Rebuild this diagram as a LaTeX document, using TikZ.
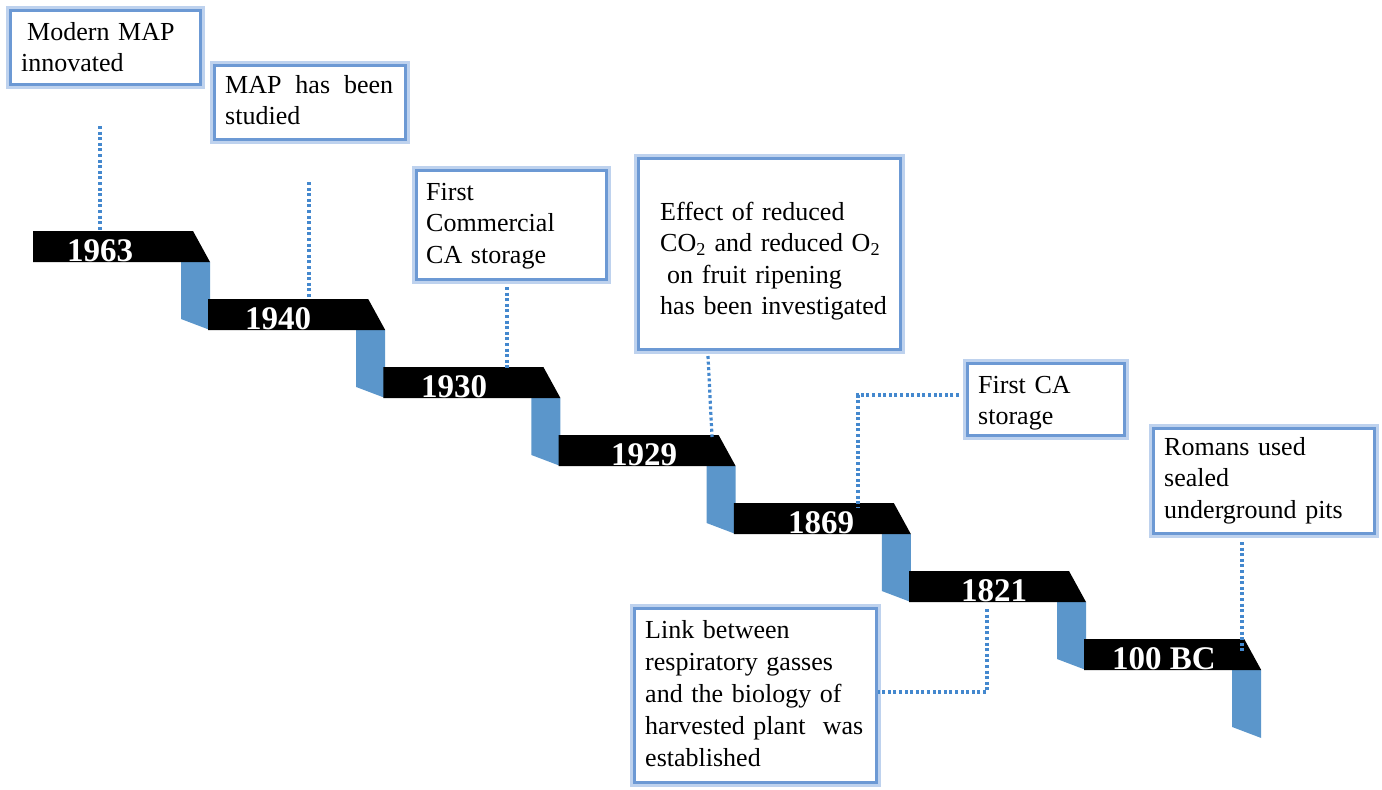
\documentclass[tikz,border=0pt]{standalone}
\usepackage{fontspec}
\setmainfont{Liberation Serif}
\definecolor{ribbon}{RGB}{91,150,203}
\definecolor{dotc}{RGB}{68,136,206}
\definecolor{frameglow}{RGB}{190,210,238}
\definecolor{framemain}{RGB}{108,153,212}
\tikzset{
  boxframe/.style={draw=framemain, line width=3.4pt, fill=white, inner sep=0pt,
    anchor=north west, rectangle,
    preaction={draw=frameglow, line width=9pt}},
  boxtext/.style={font=\fontsize{26}{31.5}\selectfont, align=left, inner sep=0pt,
    anchor=base west, text=black},
  yearlabel/.style={font=\fontsize{33}{36}\selectfont\bfseries, text=white,
    inner sep=0pt, anchor=base},
  dotline/.style={draw=dotc, line width=3.2pt, dash pattern=on 3pt off 2.6pt},
  barshape/.style={fill=black},
  ribbonshape/.style={fill=ribbon}
}
\begin{document}
\begin{tikzpicture}[x=1pt,y=-1pt]
\useasboundingbox (0,0) rectangle (1382,790);

% ribbons and bars
\foreach \i in {0,...,6}{
  \pgfmathsetmacro{\L}{33+175.2*\i}
  \pgfmathsetmacro{\T}{231+68*\i}
  \fill[ribbonshape] (\L+148,\T+31) -- (\L+177,\T+31) -- (\L+177,\T+99) -- (\L+148,\T+88) -- cycle;
}
\foreach \i in {0,...,6}{
  \pgfmathsetmacro{\L}{33+175.2*\i}
  \pgfmathsetmacro{\T}{231+68*\i}
  \fill[barshape] (\L,\T) -- (\L+160,\T) -- (\L+177,\T+31) -- (\L,\T+31) -- cycle;
}

% year labels
\node[yearlabel] (y1963) at (100,261) {1963};
\node[yearlabel] (y1940) at (278,329) {1940};
\node[yearlabel] (y1930) at (454,397) {1930};
\node[yearlabel] (y1929) at (644,465) {1929};
\node[yearlabel] (y1869) at (821,533) {1869};
\node[yearlabel] (y1821) at (994,601) {1821};
\node[yearlabel] (y100) at (1164,669) {100 BC};

% boxes
\node[boxframe, minimum width=190, minimum height=74] (b1) at (9,9) {};
\node[boxframe, minimum width=191, minimum height=74] (b2) at (213,64) {};
\node[boxframe, minimum width=190, minimum height=109] (b3) at (415,169) {};
\node[boxframe, minimum width=262, minimum height=191] (b4) at (637,157) {};
\node[boxframe, minimum width=157, minimum height=72] (b5) at (966,362) {};
\node[boxframe, minimum width=221, minimum height=105] (b6) at (1152,427) {};
\node[boxframe, minimum width=242, minimum height=174] (b7) at (633,607) {};

% box texts
\node[boxtext, text width=175] (t1) at (21,40) {\hspace*{6pt}Modern MAP\\innovated};
\node[boxtext, text width=168] (t2) at (225,93) {MAP\hfill has\hfill been\\studied};
\node[boxtext, text width=175] (t3) at (426,200) {First\\Commercial\\CA storage};
\node[boxtext, text width=235] (t4) at (660,220) {Effect of reduced\\CO\textsubscript{2} and reduced O\textsubscript{2}\\\hspace*{7pt}on fruit ripening\\has been investigated};
\node[boxtext, text width=140] (t5) at (978,393) {First CA\\storage};
\node[boxtext, text width=205] (t6) at (1164,455) {Romans used\\sealed\\underground pits};
\node[boxtext, text width=225, font=\fontsize{26}{32.2}\selectfont] (t7) at (645,638) {Link between\\respiratory gasses\\and the biology of\\harvested plant\ \ was\\established};

% connectors
\coordinate (c1a) at (100,126); \coordinate (c1b) at (100,231);
\coordinate (c2a) at (309,182); \coordinate (c2b) at (309,299);
\coordinate (c3a) at (507,287); \coordinate (c3b) at (507,368);
\coordinate (c4a) at (708,356); \coordinate (c4b) at (712,437);
\coordinate (c5k) at (858,395); \coordinate (c5b) at (858,508);
\coordinate (c6a) at (987,609); \coordinate (c6k) at (987,692);
\coordinate (c7a) at (1242,542); \coordinate (c7b) at (1242,652);

\draw[dotline] (c1a) -- (c1b);
\draw[dotline] (c2a) -- (c2b);
\draw[dotline] (c3a) -- (c3b);
\draw[dotline] (c4a) -- (c4b);
\draw[dotline] (b5.west |- c5k) ++(-7,0) -- (c5k) -- (c5b);
\draw[dotline] (c6a) -- (c6k) -- (b7.east |- c6k) ++(7,0);
\draw[dotline] (c7a) -- (c7b);
\end{tikzpicture}
\end{document}
